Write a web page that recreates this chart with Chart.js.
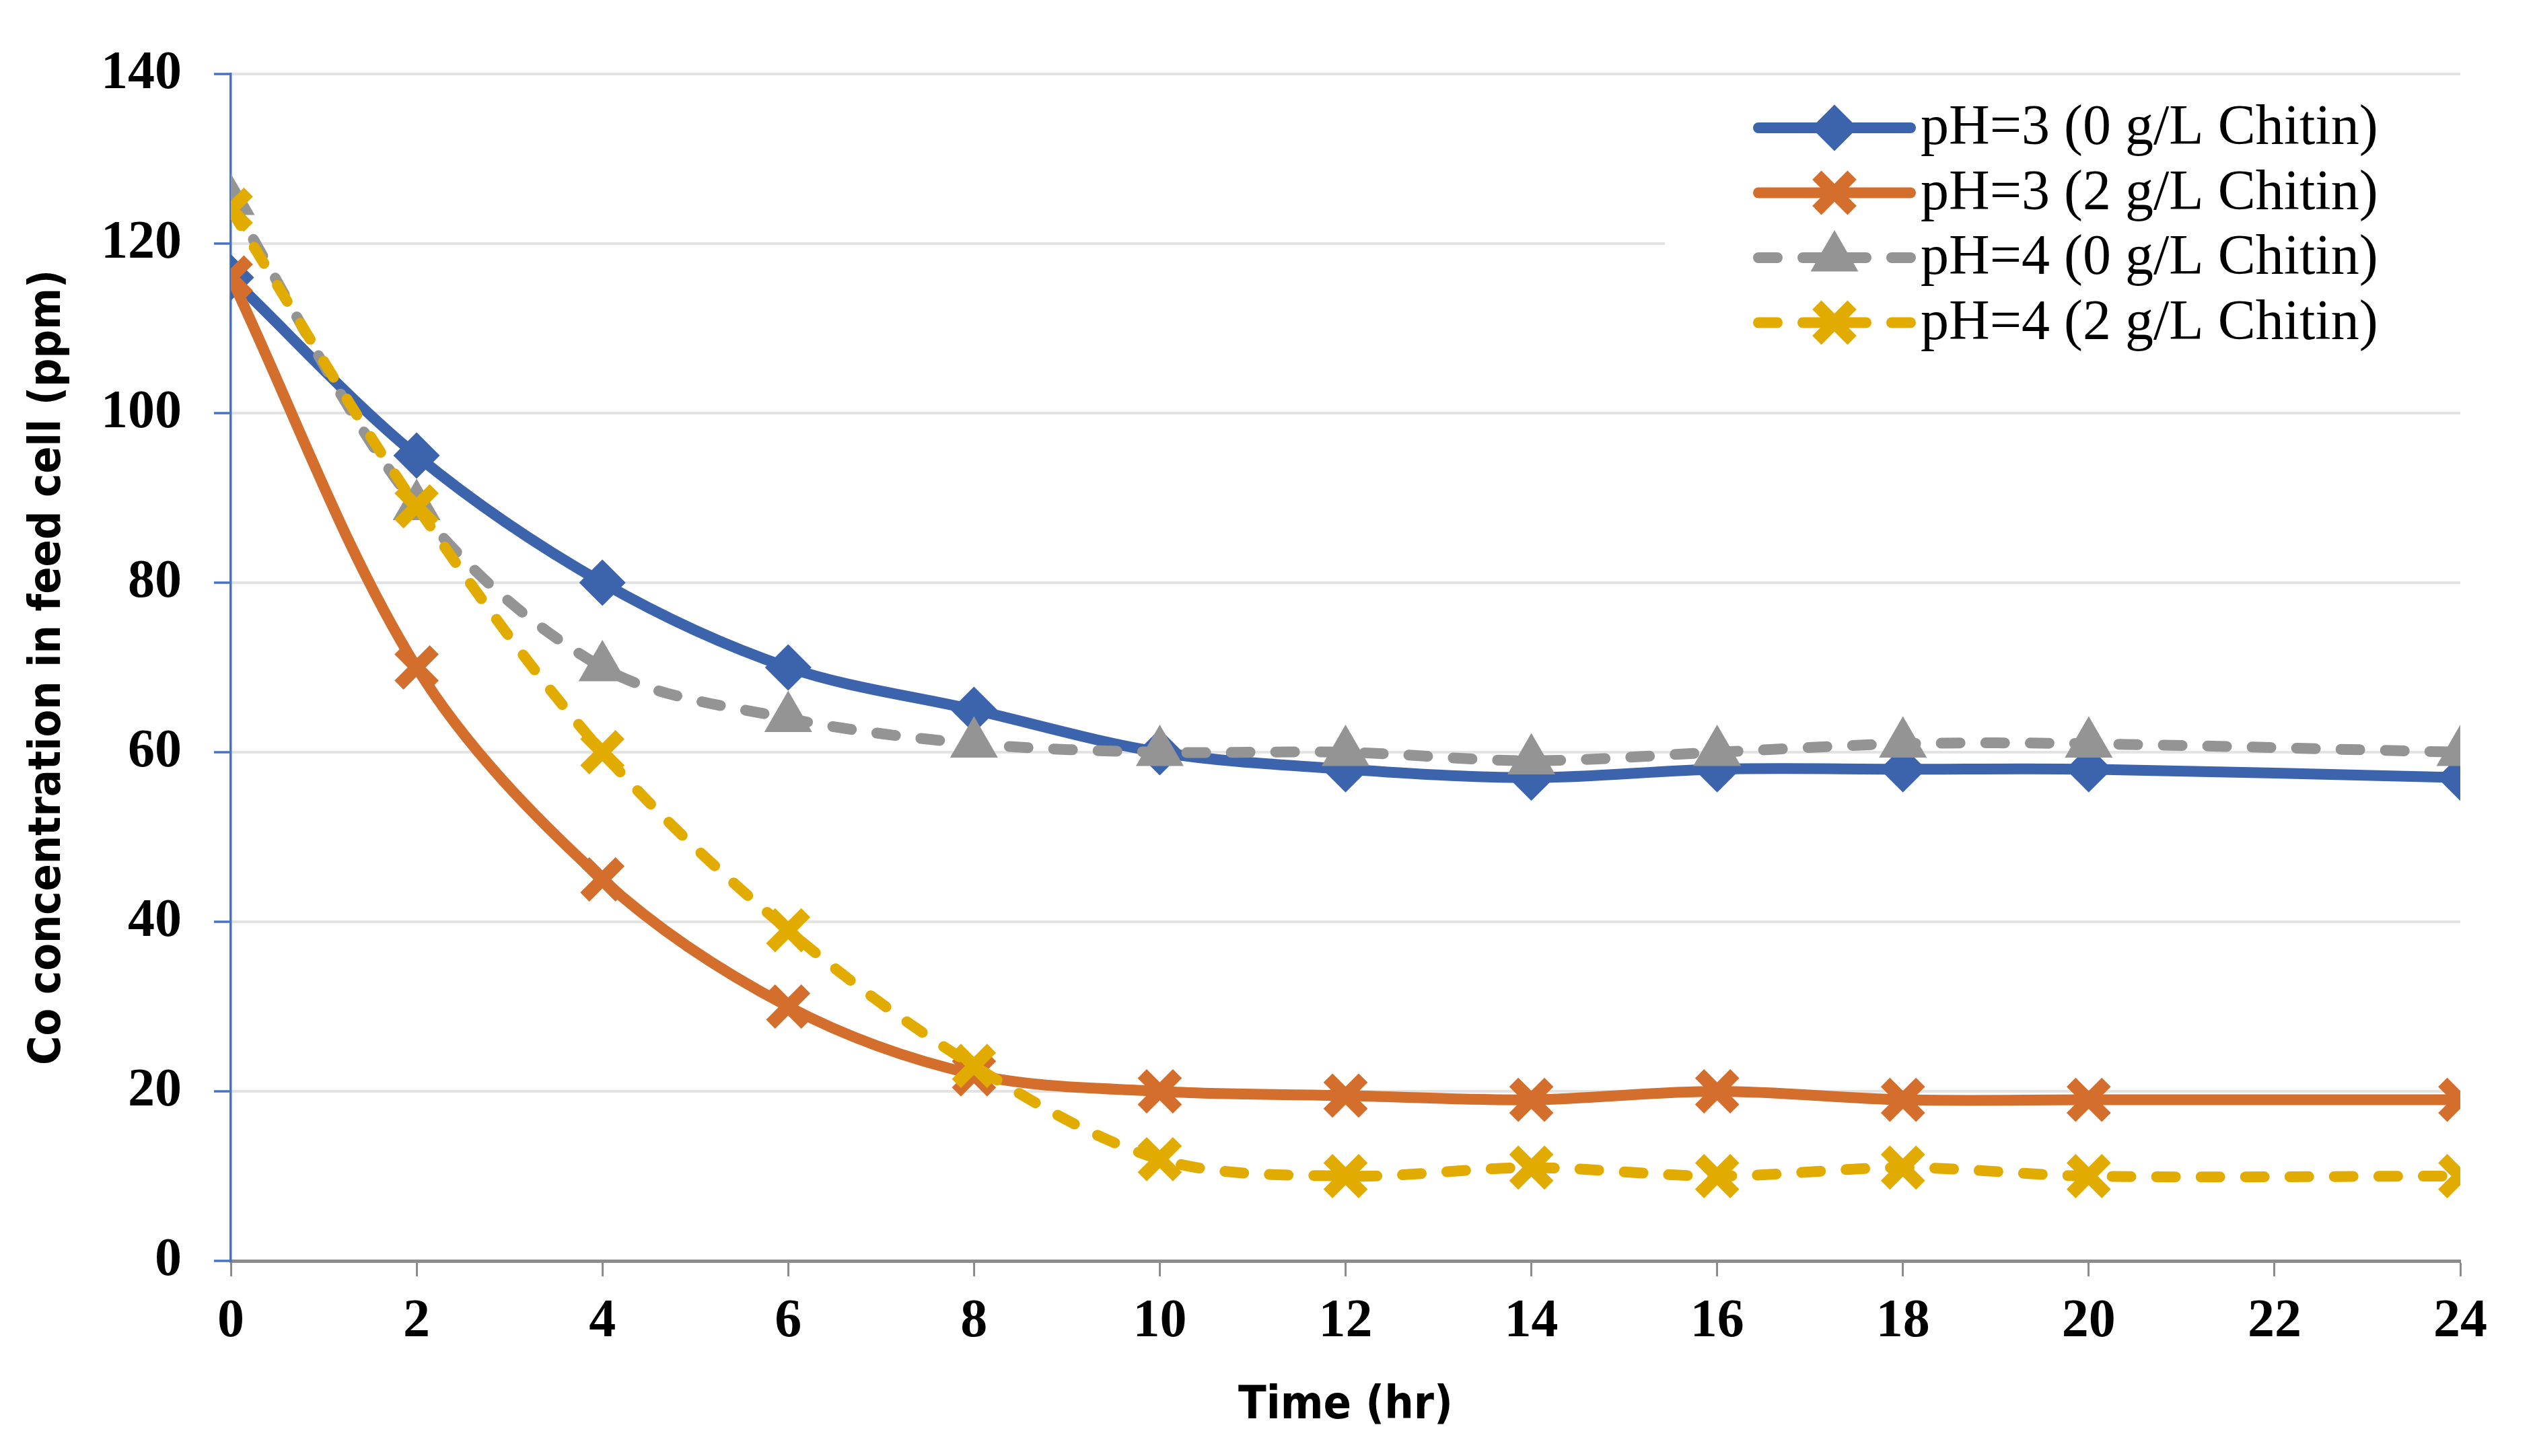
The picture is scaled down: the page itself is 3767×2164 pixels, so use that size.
<!DOCTYPE html>
<html>
<head>
<meta charset="utf-8">
<script src="https://cdn.jsdelivr.net/npm/chart.js@4.4.1/dist/chart.umd.min.js"></script>
<style>
  html, body { margin: 0; padding: 0; background: #fff; }
  canvas { display: block; }
</style>
</head>
<body>
<canvas id="chart" width="3767" height="2164"></canvas>
<script>
// ---------- Data ----------
const times = [0, 2, 4, 6, 8, 10, 12, 14, 16, 18, 20, 24];
const ph3NoChitin = [116, 95, 80, 70, 65, 60, 58, 57, 58, 58, 58, 57];
const ph3Chitin   = [116, 70, 45, 30, 22, 20, 19.5, 19, 20, 19, 19, 19];
const ph4NoChitin = [125, 89, 70, 64, 61, 60, 60, 59, 60, 61, 61, 60];
const ph4Chitin   = [124, 89, 60, 39, 23, 12, 10, 11, 10, 11, 10, 10];

const seriesLabels = [
  "pH=3 (0 g/L Chitin)",
  "pH=3 (2 g/L Chitin)",
  "pH=4 (0 g/L Chitin)",
  "pH=4 (2 g/L Chitin)"
];
const xTitle = "Time (hr)";
const yTitle = "Co concentration in feed cell (ppm)";

// ---------- Styling ----------
const BLUE = "#3C64AC";
const ORANGE = "#D36E2C";
const GRAY = "#949494";
const YELLOW = "#E2AB00";
const AXIS_BLUE = "#4472C4";
const AXIS_GRAY = "#8C8C8C";
const GRID = "#E3E3E3";
const DASH = [28, 38];

const serif = '"Liberation Serif", "Times New Roman", serif';
const narrow = '"Liberation Sans Narrow", "DejaVu Sans Condensed", "Liberation Sans", sans-serif';

const toPoints = (ys) => times.map((t, i) => ({ x: t, y: ys[i] }));

function lineSet(label, values, color, extra) {
  return Object.assign({
    label,
    data: toPoints(values),
    borderColor: color,
    backgroundColor: color,
    pointBackgroundColor: color,
    pointBorderColor: color,
    borderWidth: 16,
    borderCapStyle: "round",
    borderJoinStyle: "round",
    tension: 0.33
  }, extra);
}

const datasets = [
  lineSet(seriesLabels[0], ph3NoChitin, BLUE,
    { pointStyle: "rectRot", pointRadius: 31, pointBorderWidth: 5, order: 4 }),
  lineSet(seriesLabels[1], ph3Chitin, ORANGE,
    { pointStyle: "crossRot", pointRadius: 37, pointBorderWidth: 19, order: 3 }),
  lineSet(seriesLabels[2], ph4NoChitin, GRAY,
    { pointStyle: "triangle", pointRadius: 33, pointBorderWidth: 8, borderDash: DASH, order: 2 }),
  lineSet(seriesLabels[3], ph4Chitin, YELLOW,
    { pointStyle: "crossRot", pointRadius: 37, pointBorderWidth: 19, borderDash: DASH, order: 1 })
];

// ---------- Legend (line + marker sample, top right inside plot) ----------
const sideLegend = {
  id: "sideLegend",
  beforeDatasetsDraw(chart) {
    const { ctx, chartArea } = chart;
    ctx.save();
    ctx.fillStyle = "#fff";
    ctx.fillRect(2474, 128, chartArea.right - 2474 + 6, 392);
    ctx.restore();
  },
  afterDraw(chart) {
    const { ctx } = chart;
    const x0 = 2613, x1 = 2839, xm = (x0 + x1) / 2;
    ctx.save();
    chart.data.datasets.forEach((ds, i) => {
      const y = 190 + i * 96.5;
      ctx.setLineDash(ds.borderDash || []);
      ctx.lineCap = "round";
      ctx.strokeStyle = ds.borderColor;
      ctx.lineWidth = ds.borderWidth;
      ctx.beginPath();
      ctx.moveTo(x0, y);
      ctx.lineTo(x1, y);
      ctx.stroke();

      ctx.setLineDash([]);
      ctx.lineCap = "butt";
      ctx.fillStyle = ds.pointBackgroundColor;
      ctx.strokeStyle = ds.pointBorderColor;
      ctx.lineWidth = ds.pointBorderWidth;
      Chart.helpers.drawPoint(ctx, {
        pointStyle: ds.pointStyle,
        radius: ds.pointRadius,
        rotation: 0,
        borderWidth: ds.pointBorderWidth
      }, xm, y);

      ctx.fillStyle = "#000";
      ctx.font = "84px " + serif;
      ctx.textBaseline = "middle";
      ctx.textAlign = "left";
      ctx.fillText(ds.label, 2854, y + 2);
    });
    ctx.restore();
  }
};

// ---------- Chart ----------
new Chart(document.getElementById("chart"), {
  type: "line",
  data: { datasets },
  plugins: [sideLegend],
  options: {
    responsive: false,
    devicePixelRatio: 1,
    animation: false,
    layout: { padding: { top: 110, right: 111, left: 0, bottom: 0 } },
    plugins: {
      legend: { display: false },
      tooltip: { enabled: false }
    },
    scales: {
      x: {
        type: "linear",
        min: 0,
        max: 24,
        z: 1,
        ticks: {
          stepSize: 2,
          color: "#000",
          padding: 20,
          font: { family: serif, size: 80, weight: "bold" }
        },
        grid: {
          drawOnChartArea: false,
          tickColor: AXIS_GRAY,
          tickLength: 23,
          tickWidth: 3
        },
        border: { color: AXIS_GRAY, width: 5 },
        title: {
          display: true,
          text: xTitle,
          color: "#000",
          font: { family: narrow, size: 68, weight: "bold" },
          padding: { top: 0, bottom: 33 }
        },
        afterFit(scale) { scale.height = 290; }
      },
      y: {
        min: 0,
        max: 140,
        ticks: {
          stepSize: 20,
          color: "#000",
          padding: 48,
          font: { family: serif, size: 80, weight: "bold" }
        },
        grid: {
          color: (c) => (c.tick && c.tick.value === 0 ? "rgba(0,0,0,0)" : GRID),
          lineWidth: 4,
          tickColor: AXIS_BLUE,
          tickLength: 25,
          tickWidth: 3.5
        },
        border: { color: AXIS_BLUE, width: 3.5 },
        title: {
          display: true,
          text: yTitle,
          color: "#000",
          font: { family: narrow, size: 66, weight: "bold" },
          padding: { top: 32, bottom: 0 }
        },
        afterFit(scale) { scale.width = 343; }
      }
    }
  }
});
</script>
</body>
</html>
